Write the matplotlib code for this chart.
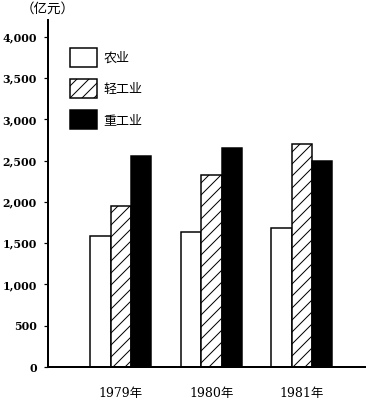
import numpy as np
import matplotlib.pyplot as plt
from matplotlib.patches import Patch

# data (亿元)
years = ['1979年', '1980年', '1981年']
agri = [1590, 1636, 1685]        # 农业
light = [1951, 2327, 2703]       # 轻工业
heavy = [2557, 2655, 2497]       # 重工业
yticks = [0, 500, 1000, 1500, 2000, 2500, 3000, 3500, 4000]
ytick_labels = ['0', '500', '1,000', '1,500', '2,000', '2,500', '3,000', '3,500', '4,000']

cjk = ['Noto Sans CJK SC', 'DejaVu Sans']
serif = ['DejaVu Serif', 'Noto Sans CJK SC']

dpi = 72
fig = plt.figure(figsize=(369 / dpi, 407 / dpi), dpi=dpi)
ax = fig.add_axes([48 / 369, 40 / 407, 317 / 369, 347 / 407])

x = np.arange(len(years))
w = 0.225
ax.bar(x - w, agri, w, color='white', edgecolor='black', linewidth=1.5, label='农业')
ax.bar(x, light, w, color='white', edgecolor='black', linewidth=1.5, hatch='//', label='轻工业')
ax.bar(x + w, heavy, w, color='black', edgecolor='black', linewidth=1.5, label='重工业')

ax.set_xlim(-0.807, 2.70)
ax.set_ylim(0, 4206)

for s in ['top', 'right']:
    ax.spines[s].set_visible(False)
ax.spines['left'].set_linewidth(2)
ax.spines['bottom'].set_linewidth(2)

ax.set_yticks(yticks)
ax.set_yticklabels(ytick_labels, family=serif, fontsize=11, fontweight='bold')
ax.tick_params(axis='y', direction='out', length=4, width=1.2, pad=7)
ax.set_xticks(x)
ax.set_xticklabels(years, family=serif, fontsize=12.5)
ax.tick_params(axis='x', length=0, pad=20)

handles = [Patch(facecolor='white', edgecolor='black', linewidth=1.5),
           Patch(facecolor='white', edgecolor='black', linewidth=1.5, hatch='//'),
           Patch(facecolor='black', edgecolor='black', linewidth=1.5)]
ax.legend(handles, ['农业', '轻工业', '重工业'], loc='upper left',
          bbox_to_anchor=((70 - 48) / 317, (367 - 48) / 347), frameon=False,
          prop={'family': cjk, 'size': 13}, handlelength=2.1, handleheight=1.85,
          labelspacing=0.95, handletextpad=0.45, borderpad=0, borderaxespad=0)

fig.text(48 / 369, 1 - 9 / 407, '（亿元）', family=cjk, fontsize=13.5,
         ha='center', va='center')

fig.savefig('out.png', dpi=dpi)
